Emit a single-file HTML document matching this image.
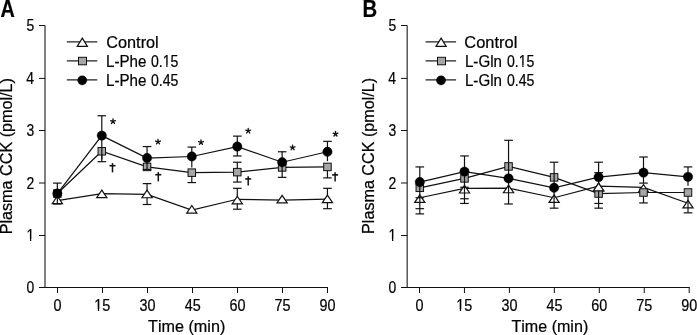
<!DOCTYPE html>
<html><head><meta charset="utf-8"><style>
html,body{margin:0;padding:0;background:#fff;}
body{width:697px;height:335px;position:relative;overflow:hidden;font-family:"Liberation Sans", sans-serif;}
svg text{font-kerning:none;}
</style></head><body>
<svg width="697" height="335" viewBox="0 0 697 335" style="position:absolute;left:0;top:0;filter:grayscale(1)">
<text transform="translate(0.606,16.600) scale(0.8329,1)" font-family='"Liberation Sans", sans-serif' font-size="23.8" font-weight="bold" fill="#000" stroke="#000" stroke-width="0.22" style="font-kerning:none">A</text>
<line x1="45.0" y1="25.5" x2="45.0" y2="288" stroke="#4a4a4a" stroke-width="1.4"/>
<line x1="39" y1="287.5" x2="328.00" y2="287.5" stroke="#111" stroke-width="1"/>
<text transform="translate(26.402,293.000) scale(0.8700,1)" font-family='"Liberation Sans", sans-serif' font-size="16" fill="#000" stroke="#000" stroke-width="0.22" style="font-kerning:none">0</text>
<line x1="39" y1="235.5" x2="45.0" y2="235.5" stroke="#111" stroke-width="1"/>
<text transform="translate(26.538,241.000) scale(0.8700,1)" font-family='"Liberation Sans", sans-serif' font-size="16" fill="#000" stroke="#000" stroke-width="0.22" style="font-kerning:none">1</text><g transform="translate(26.538,241.000) scale(0.8700,1)"><rect x="0.219" y="-1.995" width="3.785" height="2.795" fill="#fff"/><rect x="5.457" y="-1.995" width="3.660" height="2.795" fill="#fff"/></g>
<line x1="39" y1="183.0" x2="45.0" y2="183.0" stroke="#111" stroke-width="1"/>
<text transform="translate(26.558,188.500) scale(0.8700,1)" font-family='"Liberation Sans", sans-serif' font-size="16" fill="#000" stroke="#000" stroke-width="0.22" style="font-kerning:none">2</text>
<line x1="39" y1="130.5" x2="45.0" y2="130.5" stroke="#111" stroke-width="1"/>
<text transform="translate(26.470,136.000) scale(0.8700,1)" font-family='"Liberation Sans", sans-serif' font-size="16" fill="#000" stroke="#000" stroke-width="0.22" style="font-kerning:none">3</text>
<line x1="39" y1="78.4" x2="45.0" y2="78.4" stroke="#111" stroke-width="1"/>
<text transform="translate(26.266,83.900) scale(0.8700,1)" font-family='"Liberation Sans", sans-serif' font-size="16" fill="#000" stroke="#000" stroke-width="0.22" style="font-kerning:none">4</text>
<line x1="39" y1="25.5" x2="45.0" y2="25.5" stroke="#111" stroke-width="1"/>
<text transform="translate(26.443,31.000) scale(0.8700,1)" font-family='"Liberation Sans", sans-serif' font-size="16" fill="#000" stroke="#000" stroke-width="0.22" style="font-kerning:none">5</text>
<line x1="57.50" y1="287.5" x2="57.50" y2="293" stroke="#111" stroke-width="1"/>
<text transform="translate(53.496,311.000) scale(0.9000,1)" font-family='"Liberation Sans", sans-serif' font-size="16" fill="#000" stroke="#000" stroke-width="0.22" style="font-kerning:none">0</text>
<line x1="102.50" y1="287.5" x2="102.50" y2="293" stroke="#111" stroke-width="1"/>
<text transform="translate(94.245,311.000) scale(0.9000,1)" font-family='"Liberation Sans", sans-serif' font-size="16" fill="#000" stroke="#000" stroke-width="0.22" style="font-kerning:none">15</text><g transform="translate(94.245,311.000) scale(0.9000,1)"><rect x="0.219" y="-1.995" width="3.785" height="2.795" fill="#fff"/><rect x="5.457" y="-1.995" width="3.660" height="2.795" fill="#fff"/></g>
<line x1="147.50" y1="287.5" x2="147.50" y2="293" stroke="#111" stroke-width="1"/>
<text transform="translate(139.498,311.000) scale(0.9000,1)" font-family='"Liberation Sans", sans-serif' font-size="16" fill="#000" stroke="#000" stroke-width="0.22" style="font-kerning:none">30</text>
<line x1="192.50" y1="287.5" x2="192.50" y2="293" stroke="#111" stroke-width="1"/>
<text transform="translate(184.629,311.000) scale(0.9000,1)" font-family='"Liberation Sans", sans-serif' font-size="16" fill="#000" stroke="#000" stroke-width="0.22" style="font-kerning:none">45</text>
<line x1="237.50" y1="287.5" x2="237.50" y2="293" stroke="#111" stroke-width="1"/>
<text transform="translate(229.407,311.000) scale(0.9000,1)" font-family='"Liberation Sans", sans-serif' font-size="16" fill="#000" stroke="#000" stroke-width="0.22" style="font-kerning:none">60</text>
<line x1="282.50" y1="287.5" x2="282.50" y2="293" stroke="#111" stroke-width="1"/>
<text transform="translate(274.425,311.000) scale(0.9000,1)" font-family='"Liberation Sans", sans-serif' font-size="16" fill="#000" stroke="#000" stroke-width="0.22" style="font-kerning:none">75</text>
<line x1="327.50" y1="287.5" x2="327.50" y2="293" stroke="#111" stroke-width="1"/>
<text transform="translate(319.435,311.000) scale(0.9000,1)" font-family='"Liberation Sans", sans-serif' font-size="16" fill="#000" stroke="#000" stroke-width="0.22" style="font-kerning:none">90</text>
<text transform="translate(148.036,331.900) scale(1.0122,1)" font-family='"Liberation Sans", sans-serif' font-size="16" fill="#000" stroke="#000" stroke-width="0.22" style="font-kerning:none">Time (min)</text>
<text transform="translate(12.000,234.328) rotate(-90) scale(1.0378,1)" font-family='"Liberation Sans", sans-serif' font-size="15.6" fill="#000" stroke="#000" stroke-width="0.22" style="font-kerning:none">Plasma CCK (pmol/L)</text>
<line x1="66.8" y1="41.9" x2="97.3" y2="41.9" stroke="#000" stroke-width="1.1"/>
<path d="M82.30,38.15 L87.40,46.35 L77.20,46.35 Z" fill="#fff" stroke="#111" stroke-width="1.2"/>
<text transform="translate(106.273,48.200) scale(1.0182,1)" font-family='"Liberation Sans", sans-serif' font-size="16" fill="#000" stroke="#000" stroke-width="0.22" style="font-kerning:none">Control</text>
<line x1="66.8" y1="60.9" x2="97.3" y2="60.9" stroke="#000" stroke-width="1.1"/>
<rect x="78.5" y="57.3" width="8" height="7.5" fill="#a6a6a6" stroke="#111" stroke-width="1.0"/>
<text transform="translate(106.058,67.200) scale(0.9466,1)" font-family='"Liberation Sans", sans-serif' font-size="16" fill="#000" stroke="#000" stroke-width="0.22" style="font-kerning:none">L-Phe</text>
<text transform="translate(150.949,67.200) scale(0.8813,1)" font-family='"Liberation Sans", sans-serif' font-size="16" fill="#000" stroke="#000" stroke-width="0.22" style="font-kerning:none">0.15</text><g transform="translate(150.949,67.200) scale(0.8813,1)"><rect x="13.562" y="-1.995" width="3.785" height="2.795" fill="#fff"/><rect x="18.801" y="-1.995" width="3.660" height="2.795" fill="#fff"/></g>
<line x1="66.8" y1="79.9" x2="97.3" y2="79.9" stroke="#000" stroke-width="1.1"/>
<circle cx="82.25" cy="80.35" r="4.6" fill="#000" stroke="#000" stroke-width="0.4"/>
<text transform="translate(106.058,86.200) scale(0.9466,1)" font-family='"Liberation Sans", sans-serif' font-size="16" fill="#000" stroke="#000" stroke-width="0.22" style="font-kerning:none">L-Phe</text>
<text transform="translate(150.949,86.200) scale(0.8813,1)" font-family='"Liberation Sans", sans-serif' font-size="16" fill="#000" stroke="#000" stroke-width="0.22" style="font-kerning:none">0.45</text>
<polyline points="57.35,200.59 101.80,193.59 147.05,194.38 191.80,210.19 237.30,199.28 282.15,200.12 327.45,199.18" fill="none" stroke="#111" stroke-width="1.2"/>
<line x1="147.05" y1="183.62" x2="147.05" y2="204.50" stroke="#111" stroke-width="1.2"/>
<line x1="142.75" y1="183.62" x2="151.35" y2="183.62" stroke="#111" stroke-width="1.2"/>
<line x1="142.75" y1="204.50" x2="151.35" y2="204.50" stroke="#111" stroke-width="1.2"/>
<line x1="237.30" y1="188.32" x2="237.30" y2="209.20" stroke="#111" stroke-width="1.2"/>
<line x1="233.00" y1="188.32" x2="241.60" y2="188.32" stroke="#111" stroke-width="1.2"/>
<line x1="233.00" y1="209.20" x2="241.60" y2="209.20" stroke="#111" stroke-width="1.2"/>
<line x1="327.45" y1="188.32" x2="327.45" y2="208.68" stroke="#111" stroke-width="1.2"/>
<line x1="323.15" y1="188.32" x2="331.75" y2="188.32" stroke="#111" stroke-width="1.2"/>
<line x1="323.15" y1="208.68" x2="331.75" y2="208.68" stroke="#111" stroke-width="1.2"/>
<path d="M57.35,196.00 L62.45,203.60 L52.25,203.60 Z" fill="#fff" stroke="#111" stroke-width="1.2" stroke-linejoin="miter"/>
<path d="M101.80,190.10 L106.90,197.70 L96.70,197.70 Z" fill="#fff" stroke="#111" stroke-width="1.2" stroke-linejoin="miter"/>
<path d="M147.05,190.15 L152.15,197.75 L141.95,197.75 Z" fill="#fff" stroke="#111" stroke-width="1.2" stroke-linejoin="miter"/>
<path d="M191.80,205.50 L196.90,213.10 L186.70,213.10 Z" fill="#fff" stroke="#111" stroke-width="1.2" stroke-linejoin="miter"/>
<path d="M237.30,196.25 L242.40,203.85 L232.20,203.85 Z" fill="#fff" stroke="#111" stroke-width="1.2" stroke-linejoin="miter"/>
<path d="M282.15,195.35 L287.25,202.95 L277.05,202.95 Z" fill="#fff" stroke="#111" stroke-width="1.2" stroke-linejoin="miter"/>
<path d="M327.45,195.10 L332.55,202.70 L322.35,202.70 Z" fill="#fff" stroke="#111" stroke-width="1.2" stroke-linejoin="miter"/>
<polyline points="57.35,193.54 101.80,151.26 147.05,166.92 191.80,172.66 237.30,172.14 282.15,167.44 327.45,166.92" fill="none" stroke="#111" stroke-width="1.2"/>
<line x1="101.80" y1="151.26" x2="101.80" y2="161.70" stroke="#111" stroke-width="1.2"/>
<line x1="97.50" y1="161.70" x2="106.10" y2="161.70" stroke="#111" stroke-width="1.2"/>
<line x1="191.80" y1="172.66" x2="191.80" y2="182.58" stroke="#111" stroke-width="1.2"/>
<line x1="187.50" y1="182.58" x2="196.10" y2="182.58" stroke="#111" stroke-width="1.2"/>
<line x1="237.30" y1="162.22" x2="237.30" y2="182.06" stroke="#111" stroke-width="1.2"/>
<line x1="233.00" y1="162.22" x2="241.60" y2="162.22" stroke="#111" stroke-width="1.2"/>
<line x1="233.00" y1="182.06" x2="241.60" y2="182.06" stroke="#111" stroke-width="1.2"/>
<line x1="282.15" y1="167.44" x2="282.15" y2="177.36" stroke="#111" stroke-width="1.2"/>
<line x1="277.85" y1="177.36" x2="286.45" y2="177.36" stroke="#111" stroke-width="1.2"/>
<line x1="327.45" y1="166.92" x2="327.45" y2="177.88" stroke="#111" stroke-width="1.2"/>
<line x1="323.15" y1="177.88" x2="331.75" y2="177.88" stroke="#111" stroke-width="1.2"/>
<rect x="53.60" y="189.79" width="7.5" height="7.5" fill="#a6a6a6" stroke="#111" stroke-width="1.0"/>
<rect x="98.05" y="147.51" width="7.5" height="7.5" fill="#a6a6a6" stroke="#111" stroke-width="1.0"/>
<rect x="143.30" y="163.17" width="7.5" height="7.5" fill="#a6a6a6" stroke="#111" stroke-width="1.0"/>
<rect x="188.05" y="168.91" width="7.5" height="7.5" fill="#a6a6a6" stroke="#111" stroke-width="1.0"/>
<rect x="233.55" y="168.39" width="7.5" height="7.5" fill="#a6a6a6" stroke="#111" stroke-width="1.0"/>
<rect x="278.40" y="163.69" width="7.5" height="7.5" fill="#a6a6a6" stroke="#111" stroke-width="1.0"/>
<rect x="323.70" y="163.17" width="7.5" height="7.5" fill="#a6a6a6" stroke="#111" stroke-width="1.0"/>
<polyline points="57.35,193.54 101.80,135.60 147.05,158.04 191.80,156.48 237.30,146.56 282.15,162.22 327.45,151.78" fill="none" stroke="#111" stroke-width="1.2"/>
<line x1="57.35" y1="183.10" x2="57.35" y2="203.98" stroke="#111" stroke-width="1.2"/>
<line x1="53.05" y1="183.10" x2="61.65" y2="183.10" stroke="#111" stroke-width="1.2"/>
<line x1="53.05" y1="203.98" x2="61.65" y2="203.98" stroke="#111" stroke-width="1.2"/>
<line x1="101.80" y1="115.76" x2="101.80" y2="159.61" stroke="#111" stroke-width="1.2"/>
<line x1="97.50" y1="115.76" x2="106.10" y2="115.76" stroke="#111" stroke-width="1.2"/>
<line x1="147.05" y1="146.56" x2="147.05" y2="169.53" stroke="#111" stroke-width="1.2"/>
<line x1="142.75" y1="146.56" x2="151.35" y2="146.56" stroke="#111" stroke-width="1.2"/>
<line x1="142.75" y1="169.53" x2="151.35" y2="169.53" stroke="#111" stroke-width="1.2"/>
<line x1="191.80" y1="147.08" x2="191.80" y2="167.44" stroke="#111" stroke-width="1.2"/>
<line x1="187.50" y1="147.08" x2="196.10" y2="147.08" stroke="#111" stroke-width="1.2"/>
<line x1="237.30" y1="136.12" x2="237.30" y2="155.96" stroke="#111" stroke-width="1.2"/>
<line x1="233.00" y1="136.12" x2="241.60" y2="136.12" stroke="#111" stroke-width="1.2"/>
<line x1="233.00" y1="155.96" x2="241.60" y2="155.96" stroke="#111" stroke-width="1.2"/>
<line x1="282.15" y1="151.78" x2="282.15" y2="171.62" stroke="#111" stroke-width="1.2"/>
<line x1="277.85" y1="151.78" x2="286.45" y2="151.78" stroke="#111" stroke-width="1.2"/>
<line x1="327.45" y1="141.34" x2="327.45" y2="161.18" stroke="#111" stroke-width="1.2"/>
<line x1="323.15" y1="141.34" x2="331.75" y2="141.34" stroke="#111" stroke-width="1.2"/>
<circle cx="57.35" cy="193.54" r="4.7" fill="#000" stroke="#000" stroke-width="0.4"/>
<circle cx="101.80" cy="135.60" r="4.7" fill="#000" stroke="#000" stroke-width="0.4"/>
<circle cx="147.05" cy="158.04" r="4.7" fill="#000" stroke="#000" stroke-width="0.4"/>
<circle cx="191.80" cy="156.48" r="4.7" fill="#000" stroke="#000" stroke-width="0.4"/>
<circle cx="237.30" cy="146.56" r="4.7" fill="#000" stroke="#000" stroke-width="0.4"/>
<circle cx="282.15" cy="162.22" r="4.7" fill="#000" stroke="#000" stroke-width="0.4"/>
<circle cx="327.45" cy="151.78" r="4.7" fill="#000" stroke="#000" stroke-width="0.4"/>
<path d="M113.00,121.40 L113.00,118.90 M113.00,121.40 L115.38,120.63 M113.00,121.40 L114.47,123.42 M113.00,121.40 L111.53,123.42 M113.00,121.40 L110.62,120.63 " stroke="#111" stroke-width="1.35" stroke-linecap="round" fill="none"/>
<path d="M158.00,141.80 L158.00,139.30 M158.00,141.80 L160.38,141.03 M158.00,141.80 L159.47,143.82 M158.00,141.80 L156.53,143.82 M158.00,141.80 L155.62,141.03 " stroke="#111" stroke-width="1.35" stroke-linecap="round" fill="none"/>
<path d="M201.00,142.30 L201.00,139.80 M201.00,142.30 L203.38,141.53 M201.00,142.30 L202.47,144.32 M201.00,142.30 L199.53,144.32 M201.00,142.30 L198.62,141.53 " stroke="#111" stroke-width="1.35" stroke-linecap="round" fill="none"/>
<path d="M248.20,130.90 L248.20,128.40 M248.20,130.90 L250.58,130.13 M248.20,130.90 L249.67,132.92 M248.20,130.90 L246.73,132.92 M248.20,130.90 L245.82,130.13 " stroke="#111" stroke-width="1.35" stroke-linecap="round" fill="none"/>
<path d="M292.60,147.70 L292.60,145.20 M292.60,147.70 L294.98,146.93 M292.60,147.70 L294.07,149.72 M292.60,147.70 L291.13,149.72 M292.60,147.70 L290.22,146.93 " stroke="#111" stroke-width="1.35" stroke-linecap="round" fill="none"/>
<path d="M335.50,134.00 L335.50,131.50 M335.50,134.00 L337.88,133.23 M335.50,134.00 L336.97,136.02 M335.50,134.00 L334.03,136.02 M335.50,134.00 L333.12,133.23 " stroke="#111" stroke-width="1.35" stroke-linecap="round" fill="none"/>
<path d="M112.50,163.10 L112.50,172.40" stroke="#111" stroke-width="1.5"/><path d="M109.50,165.70 L115.50,165.70" stroke="#111" stroke-width="1.6"/>
<path d="M158.30,172.10 L158.30,181.40" stroke="#111" stroke-width="1.5"/><path d="M155.30,174.70 L161.30,174.70" stroke="#111" stroke-width="1.6"/>
<path d="M248.20,176.30 L248.20,185.60" stroke="#111" stroke-width="1.5"/><path d="M245.20,178.90 L251.20,178.90" stroke="#111" stroke-width="1.6"/>
<path d="M335.10,172.30 L335.10,181.60" stroke="#111" stroke-width="1.5"/><path d="M332.10,174.90 L338.10,174.90" stroke="#111" stroke-width="1.6"/>
<text transform="translate(362.540,16.600) scale(0.8543,1)" font-family='"Liberation Sans", sans-serif' font-size="23.8" font-weight="bold" fill="#000" stroke="#000" stroke-width="0.22" style="font-kerning:none">B</text>
<line x1="407.2" y1="25.5" x2="407.2" y2="288" stroke="#4a4a4a" stroke-width="1.4"/>
<line x1="401" y1="287.5" x2="689.70" y2="287.5" stroke="#111" stroke-width="1"/>
<text transform="translate(388.402,293.000) scale(0.8700,1)" font-family='"Liberation Sans", sans-serif' font-size="16" fill="#000" stroke="#000" stroke-width="0.22" style="font-kerning:none">0</text>
<line x1="401" y1="235.5" x2="407.2" y2="235.5" stroke="#111" stroke-width="1"/>
<text transform="translate(388.538,241.000) scale(0.8700,1)" font-family='"Liberation Sans", sans-serif' font-size="16" fill="#000" stroke="#000" stroke-width="0.22" style="font-kerning:none">1</text><g transform="translate(388.538,241.000) scale(0.8700,1)"><rect x="0.219" y="-1.995" width="3.785" height="2.795" fill="#fff"/><rect x="5.457" y="-1.995" width="3.660" height="2.795" fill="#fff"/></g>
<line x1="401" y1="183.0" x2="407.2" y2="183.0" stroke="#111" stroke-width="1"/>
<text transform="translate(388.558,188.500) scale(0.8700,1)" font-family='"Liberation Sans", sans-serif' font-size="16" fill="#000" stroke="#000" stroke-width="0.22" style="font-kerning:none">2</text>
<line x1="401" y1="130.5" x2="407.2" y2="130.5" stroke="#111" stroke-width="1"/>
<text transform="translate(388.470,136.000) scale(0.8700,1)" font-family='"Liberation Sans", sans-serif' font-size="16" fill="#000" stroke="#000" stroke-width="0.22" style="font-kerning:none">3</text>
<line x1="401" y1="78.4" x2="407.2" y2="78.4" stroke="#111" stroke-width="1"/>
<text transform="translate(388.266,83.900) scale(0.8700,1)" font-family='"Liberation Sans", sans-serif' font-size="16" fill="#000" stroke="#000" stroke-width="0.22" style="font-kerning:none">4</text>
<line x1="401" y1="25.5" x2="407.2" y2="25.5" stroke="#111" stroke-width="1"/>
<text transform="translate(388.443,31.000) scale(0.8700,1)" font-family='"Liberation Sans", sans-serif' font-size="16" fill="#000" stroke="#000" stroke-width="0.22" style="font-kerning:none">5</text>
<line x1="419.50" y1="287.5" x2="419.50" y2="293" stroke="#111" stroke-width="1"/>
<text transform="translate(415.496,311.000) scale(0.9000,1)" font-family='"Liberation Sans", sans-serif' font-size="16" fill="#000" stroke="#000" stroke-width="0.22" style="font-kerning:none">0</text>
<line x1="464.45" y1="287.5" x2="464.45" y2="293" stroke="#111" stroke-width="1"/>
<text transform="translate(456.195,311.000) scale(0.9000,1)" font-family='"Liberation Sans", sans-serif' font-size="16" fill="#000" stroke="#000" stroke-width="0.22" style="font-kerning:none">15</text><g transform="translate(456.195,311.000) scale(0.9000,1)"><rect x="0.219" y="-1.995" width="3.785" height="2.795" fill="#fff"/><rect x="5.457" y="-1.995" width="3.660" height="2.795" fill="#fff"/></g>
<line x1="509.40" y1="287.5" x2="509.40" y2="293" stroke="#111" stroke-width="1"/>
<text transform="translate(501.398,311.000) scale(0.9000,1)" font-family='"Liberation Sans", sans-serif' font-size="16" fill="#000" stroke="#000" stroke-width="0.22" style="font-kerning:none">30</text>
<line x1="554.35" y1="287.5" x2="554.35" y2="293" stroke="#111" stroke-width="1"/>
<text transform="translate(546.479,311.000) scale(0.9000,1)" font-family='"Liberation Sans", sans-serif' font-size="16" fill="#000" stroke="#000" stroke-width="0.22" style="font-kerning:none">45</text>
<line x1="599.30" y1="287.5" x2="599.30" y2="293" stroke="#111" stroke-width="1"/>
<text transform="translate(591.207,311.000) scale(0.9000,1)" font-family='"Liberation Sans", sans-serif' font-size="16" fill="#000" stroke="#000" stroke-width="0.22" style="font-kerning:none">60</text>
<line x1="644.25" y1="287.5" x2="644.25" y2="293" stroke="#111" stroke-width="1"/>
<text transform="translate(636.175,311.000) scale(0.9000,1)" font-family='"Liberation Sans", sans-serif' font-size="16" fill="#000" stroke="#000" stroke-width="0.22" style="font-kerning:none">75</text>
<line x1="689.20" y1="287.5" x2="689.20" y2="293" stroke="#111" stroke-width="1"/>
<text transform="translate(681.135,311.000) scale(0.9000,1)" font-family='"Liberation Sans", sans-serif' font-size="16" fill="#000" stroke="#000" stroke-width="0.22" style="font-kerning:none">90</text>
<text transform="translate(511.439,331.900) scale(1.0055,1)" font-family='"Liberation Sans", sans-serif' font-size="16" fill="#000" stroke="#000" stroke-width="0.22" style="font-kerning:none">Time (min)</text>
<text transform="translate(374.200,233.925) rotate(-90) scale(1.0351,1)" font-family='"Liberation Sans", sans-serif' font-size="15.6" fill="#000" stroke="#000" stroke-width="0.22" style="font-kerning:none">Plasma CCK (pmol/L)</text>
<line x1="425.6" y1="41.9" x2="456.1" y2="41.9" stroke="#000" stroke-width="1.1"/>
<path d="M441.10,38.15 L446.20,46.35 L436.00,46.35 Z" fill="#fff" stroke="#111" stroke-width="1.2"/>
<text transform="translate(464.366,48.200) scale(1.0263,1)" font-family='"Liberation Sans", sans-serif' font-size="16" fill="#000" stroke="#000" stroke-width="0.22" style="font-kerning:none">Control</text>
<line x1="425.6" y1="60.9" x2="456.1" y2="60.9" stroke="#000" stroke-width="1.1"/>
<rect x="437.5" y="57.3" width="8" height="7.5" fill="#a6a6a6" stroke="#111" stroke-width="1.0"/>
<text transform="translate(464.958,67.200) scale(0.9463,1)" font-family='"Liberation Sans", sans-serif' font-size="16" fill="#000" stroke="#000" stroke-width="0.22" style="font-kerning:none">L-Gln</text>
<text transform="translate(506.949,67.200) scale(0.8813,1)" font-family='"Liberation Sans", sans-serif' font-size="16" fill="#000" stroke="#000" stroke-width="0.22" style="font-kerning:none">0.15</text><g transform="translate(506.949,67.200) scale(0.8813,1)"><rect x="13.562" y="-1.995" width="3.785" height="2.795" fill="#fff"/><rect x="18.801" y="-1.995" width="3.660" height="2.795" fill="#fff"/></g>
<line x1="425.6" y1="79.9" x2="456.1" y2="79.9" stroke="#000" stroke-width="1.1"/>
<circle cx="441.05" cy="80.35" r="4.6" fill="#000" stroke="#000" stroke-width="0.4"/>
<text transform="translate(464.958,86.200) scale(0.9463,1)" font-family='"Liberation Sans", sans-serif' font-size="16" fill="#000" stroke="#000" stroke-width="0.22" style="font-kerning:none">L-Gln</text>
<text transform="translate(506.949,86.200) scale(0.8813,1)" font-family='"Liberation Sans", sans-serif' font-size="16" fill="#000" stroke="#000" stroke-width="0.22" style="font-kerning:none">0.45</text>
<polyline points="419.80,197.72 464.50,188.32 508.55,188.06 554.10,197.72 598.60,186.08 643.50,187.38 688.00,203.20" fill="none" stroke="#111" stroke-width="1.2"/>
<line x1="598.60" y1="172.66" x2="598.60" y2="187.28" stroke="#111" stroke-width="1.2"/>
<line x1="594.30" y1="172.66" x2="602.90" y2="172.66" stroke="#111" stroke-width="1.2"/>
<path d="M419.80,194.82 L424.90,202.42 L414.70,202.42 Z" fill="#fff" stroke="#111" stroke-width="1.2" stroke-linejoin="miter"/>
<path d="M464.50,185.42 L469.60,193.02 L459.40,193.02 Z" fill="#fff" stroke="#111" stroke-width="1.2" stroke-linejoin="miter"/>
<path d="M508.55,185.16 L513.65,192.76 L503.45,192.76 Z" fill="#fff" stroke="#111" stroke-width="1.2" stroke-linejoin="miter"/>
<path d="M554.10,194.82 L559.20,202.42 L549.00,202.42 Z" fill="#fff" stroke="#111" stroke-width="1.2" stroke-linejoin="miter"/>
<path d="M598.60,183.18 L603.70,190.78 L593.50,190.78 Z" fill="#fff" stroke="#111" stroke-width="1.2" stroke-linejoin="miter"/>
<path d="M643.50,184.48 L648.60,192.08 L638.40,192.08 Z" fill="#fff" stroke="#111" stroke-width="1.2" stroke-linejoin="miter"/>
<path d="M688.00,200.30 L693.10,207.90 L682.90,207.90 Z" fill="#fff" stroke="#111" stroke-width="1.2" stroke-linejoin="miter"/>
<polyline points="419.80,187.80 464.50,178.40 508.55,166.40 554.10,177.36 598.60,193.54 643.50,192.50 688.00,192.50" fill="none" stroke="#111" stroke-width="1.2"/>
<line x1="643.50" y1="192.50" x2="643.50" y2="202.94" stroke="#111" stroke-width="1.2"/>
<line x1="639.20" y1="202.94" x2="647.80" y2="202.94" stroke="#111" stroke-width="1.2"/>
<line x1="688.00" y1="192.50" x2="688.00" y2="212.85" stroke="#111" stroke-width="1.2"/>
<line x1="683.70" y1="212.85" x2="692.30" y2="212.85" stroke="#111" stroke-width="1.2"/>
<rect x="416.05" y="184.05" width="7.5" height="7.5" fill="#a6a6a6" stroke="#111" stroke-width="1.0"/>
<rect x="460.75" y="174.65" width="7.5" height="7.5" fill="#a6a6a6" stroke="#111" stroke-width="1.0"/>
<rect x="504.80" y="162.65" width="7.5" height="7.5" fill="#a6a6a6" stroke="#111" stroke-width="1.0"/>
<rect x="550.35" y="173.61" width="7.5" height="7.5" fill="#a6a6a6" stroke="#111" stroke-width="1.0"/>
<rect x="594.85" y="189.79" width="7.5" height="7.5" fill="#a6a6a6" stroke="#111" stroke-width="1.0"/>
<rect x="639.75" y="188.75" width="7.5" height="7.5" fill="#a6a6a6" stroke="#111" stroke-width="1.0"/>
<rect x="684.25" y="188.75" width="7.5" height="7.5" fill="#a6a6a6" stroke="#111" stroke-width="1.0"/>
<polyline points="419.80,182.06 464.50,171.62 508.55,178.40 554.10,187.80 598.60,177.10 643.50,172.66 688.00,176.84" fill="none" stroke="#111" stroke-width="1.2"/>
<line x1="419.80" y1="166.92" x2="419.80" y2="213.90" stroke="#111" stroke-width="1.2"/>
<line x1="415.50" y1="166.92" x2="424.10" y2="166.92" stroke="#111" stroke-width="1.2"/>
<line x1="415.50" y1="197.72" x2="424.10" y2="197.72" stroke="#111" stroke-width="1.2"/>
<line x1="415.50" y1="208.68" x2="424.10" y2="208.68" stroke="#111" stroke-width="1.2"/>
<line x1="415.50" y1="213.90" x2="424.10" y2="213.90" stroke="#111" stroke-width="1.2"/>
<line x1="464.50" y1="155.96" x2="464.50" y2="203.46" stroke="#111" stroke-width="1.2"/>
<line x1="460.20" y1="155.96" x2="468.80" y2="155.96" stroke="#111" stroke-width="1.2"/>
<line x1="460.20" y1="187.28" x2="468.80" y2="187.28" stroke="#111" stroke-width="1.2"/>
<line x1="460.20" y1="198.76" x2="468.80" y2="198.76" stroke="#111" stroke-width="1.2"/>
<line x1="460.20" y1="203.46" x2="468.80" y2="203.46" stroke="#111" stroke-width="1.2"/>
<line x1="508.55" y1="140.30" x2="508.55" y2="203.98" stroke="#111" stroke-width="1.2"/>
<line x1="504.25" y1="140.30" x2="512.85" y2="140.30" stroke="#111" stroke-width="1.2"/>
<line x1="504.25" y1="203.98" x2="512.85" y2="203.98" stroke="#111" stroke-width="1.2"/>
<line x1="554.10" y1="162.22" x2="554.10" y2="208.16" stroke="#111" stroke-width="1.2"/>
<line x1="549.80" y1="162.22" x2="558.40" y2="162.22" stroke="#111" stroke-width="1.2"/>
<line x1="549.80" y1="208.16" x2="558.40" y2="208.16" stroke="#111" stroke-width="1.2"/>
<line x1="598.60" y1="162.22" x2="598.60" y2="208.16" stroke="#111" stroke-width="1.2"/>
<line x1="594.30" y1="162.22" x2="602.90" y2="162.22" stroke="#111" stroke-width="1.2"/>
<line x1="594.30" y1="203.46" x2="602.90" y2="203.46" stroke="#111" stroke-width="1.2"/>
<line x1="594.30" y1="208.16" x2="602.90" y2="208.16" stroke="#111" stroke-width="1.2"/>
<line x1="643.50" y1="157.00" x2="643.50" y2="183.10" stroke="#111" stroke-width="1.2"/>
<line x1="639.20" y1="157.00" x2="647.80" y2="157.00" stroke="#111" stroke-width="1.2"/>
<line x1="639.20" y1="183.10" x2="647.80" y2="183.10" stroke="#111" stroke-width="1.2"/>
<line x1="688.00" y1="166.92" x2="688.00" y2="185.71" stroke="#111" stroke-width="1.2"/>
<line x1="683.70" y1="166.92" x2="692.30" y2="166.92" stroke="#111" stroke-width="1.2"/>
<circle cx="419.80" cy="182.06" r="4.7" fill="#000" stroke="#000" stroke-width="0.4"/>
<circle cx="464.50" cy="171.62" r="4.7" fill="#000" stroke="#000" stroke-width="0.4"/>
<circle cx="508.55" cy="178.40" r="4.7" fill="#000" stroke="#000" stroke-width="0.4"/>
<circle cx="554.10" cy="187.80" r="4.7" fill="#000" stroke="#000" stroke-width="0.4"/>
<circle cx="598.60" cy="177.10" r="4.7" fill="#000" stroke="#000" stroke-width="0.4"/>
<circle cx="643.50" cy="172.66" r="4.7" fill="#000" stroke="#000" stroke-width="0.4"/>
<circle cx="688.00" cy="176.84" r="4.7" fill="#000" stroke="#000" stroke-width="0.4"/>
<path d="M598.60,183.18 L603.70,190.78 L593.50,190.78 Z" fill="#fff" stroke="#111" stroke-width="1.2" stroke-linejoin="miter"/>
</svg>
</body></html>
